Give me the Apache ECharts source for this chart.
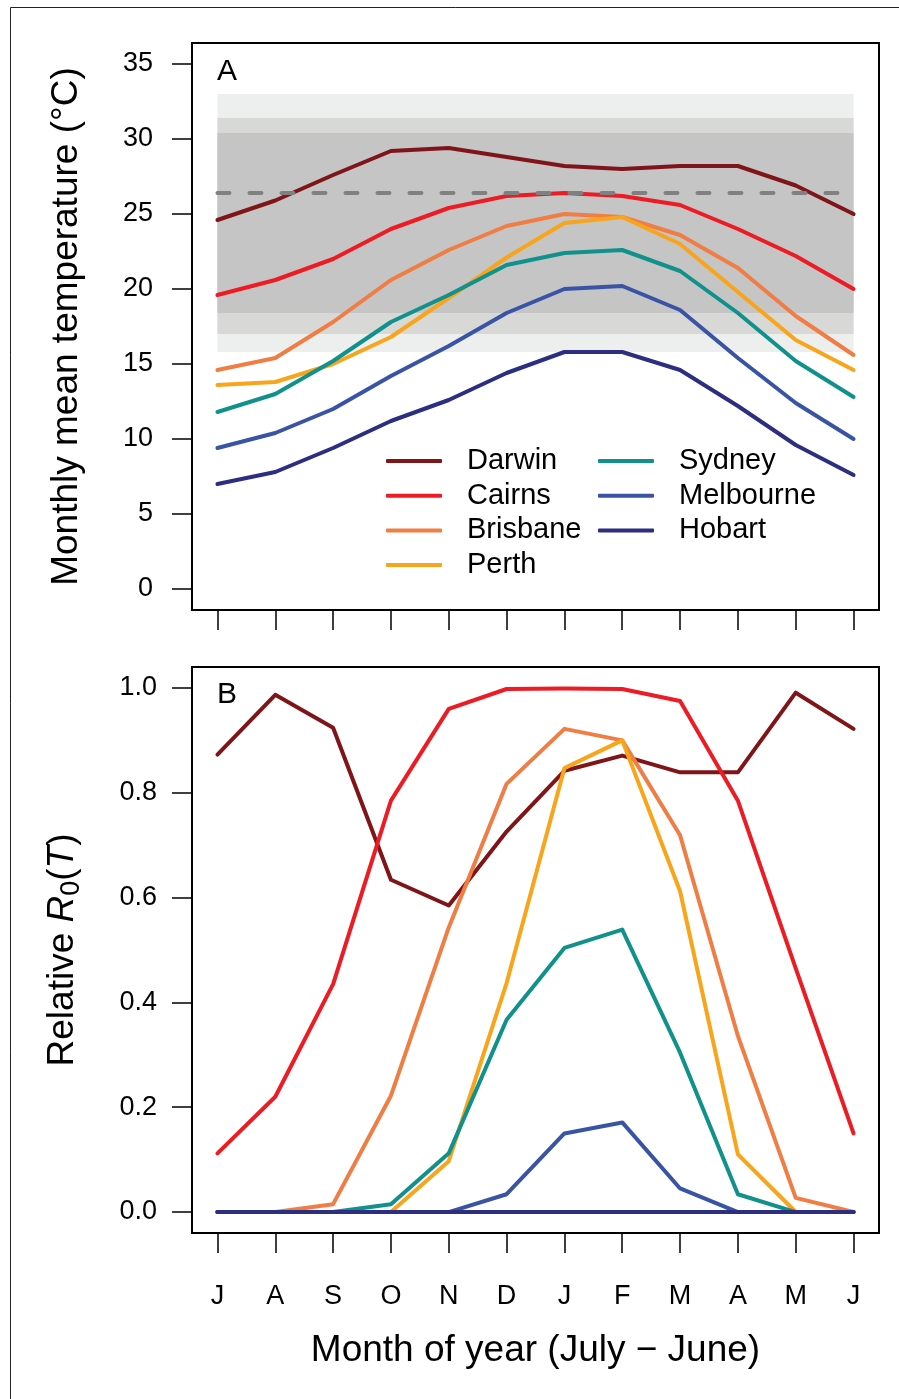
<!DOCTYPE html>
<html>
<head>
<meta charset="utf-8">
<script src="https://cdn.jsdelivr.net/npm/echarts@6/dist/echarts.min.js"></script>
<style>
  html, body { margin: 0; padding: 0; background: #fff; }
  #main { width: 899px; height: 1399px; }
</style>
</head>
<body>
<div id="main"></div>
<script>
// month letters, July -> June
const months = ['J', 'A', 'S', 'O', 'N', 'D', 'J', 'F', 'M', 'A', 'M', 'J']
const cities = ['Darwin', 'Cairns', 'Brisbane', 'Perth', 'Sydney', 'Melbourne', 'Hobart']
const colors = ['#7f1518', '#ed1c24', '#ef7d44', '#f8a51c', '#10918b', '#3a54a5', '#2c2e7f']

// panel A: monthly mean temperature (°C)
const tempDarwin = [24.6, 25.9, 27.6, 29.2, 29.4, 28.8, 28.2, 28.0, 28.2, 28.2, 26.9, 25.0]
const tempCairns = [19.6, 20.6, 22.0, 24.0, 25.4, 26.2, 26.4, 26.2, 25.6, 24.0, 22.2, 20.0]
const tempBrisbane = [14.6, 15.4, 17.8, 20.6, 22.6, 24.2, 25.0, 24.8, 23.6, 21.4, 18.2, 15.6]
const tempPerth = [13.6, 13.8, 15.0, 16.8, 19.4, 22.1, 24.4, 24.8, 23.0, 19.8, 16.6, 14.6]
const tempSydney = [11.8, 13.0, 15.2, 17.8, 19.6, 21.6, 22.4, 22.6, 21.2, 18.4, 15.2, 12.8]
const tempMelbourne = [9.4, 10.4, 12.0, 14.2, 16.2, 18.4, 20.0, 20.2, 18.6, 15.4, 12.4, 10.0]
const tempHobart = [7.0, 7.8, 9.4, 11.2, 12.6, 14.4, 15.8, 15.8, 14.6, 12.2, 9.6, 7.6]

// panel B: relative R0(T)
const r0Darwin = [0.873, 0.987, 0.924, 0.634, 0.585, 0.726, 0.842, 0.871, 0.839, 0.839, 0.991, 0.922]
const r0Cairns = [0.112, 0.220, 0.435, 0.785, 0.960, 0.998, 0.999, 0.998, 0.975, 0.785, 0.465, 0.150]
const r0Brisbane = [0, 0, 0.015, 0.222, 0.543, 0.817, 0.922, 0.900, 0.719, 0.336, 0.027, 0]
const r0Perth = [0, 0, 0, 0, 0.097, 0.437, 0.847, 0.900, 0.612, 0.110, 0, 0]
const r0Sydney = [0, 0, 0, 0.015, 0.112, 0.367, 0.504, 0.539, 0.304, 0.034, 0, 0]
const r0Melbourne = [0, 0, 0, 0, 0, 0.034, 0.150, 0.171, 0.045, 0, 0, 0]
const r0Hobart = [0, 0, 0, 0, 0, 0, 0, 0, 0, 0, 0, 0]

// shaded temperature bands (outer, middle, inner) and dashed reference line
const bandLow = [15.8, 17.0, 18.4]
const bandHigh = [33.0, 31.4, 30.4]
const bandColors = ['#edefee', '#d8d8d6', '#c5c5c5']
const refTemp = 26.4

const monthTicks = [1, 2, 3, 4, 5, 6, 7, 8, 9, 10, 11, 12]
const tempTicks = [0, 5, 10, 15, 20, 25, 30, 35]
const r0Ticks = [0, 0.2, 0.4, 0.6, 0.8, 1.0]

const tempSeries = [tempDarwin, tempCairns, tempBrisbane, tempPerth, tempSydney, tempMelbourne, tempHobart]
const r0Series = [r0Darwin, r0Cairns, r0Brisbane, r0Perth, r0Sydney, r0Melbourne, r0Hobart]

const FONT = '"Liberation Sans", Arial, Helvetica, sans-serif'
const pts = vals => vals.map((v, i) => [i + 1, v])

let myChart = echarts.init(document.getElementById('main'))

const tickStyle = { lineStyle: { color: '#000', width: 1.5 } }

function xAxisFor (grid, withLabels) {
  return {
    type: 'value',
    gridIndex: grid,
    min: 0.56,
    max: 12.44,
    axisLine: { show: false, onZero: false },
    splitLine: { show: false },
    axisTick: Object.assign({ show: true, length: 20, customValues: monthTicks }, tickStyle),
    axisLabel: {
      show: withLabels,
      customValues: monthTicks,
      formatter: v => months[Math.round(v) - 1],
      color: '#000',
      fontFamily: FONT,
      fontSize: 27,
      margin: 50
    },
    name: withLabels ? 'Month of year (July \u2212 June)' : '',
    nameLocation: 'middle',
    nameGap: 99,
    nameTextStyle: { color: '#000', fontFamily: FONT, fontSize: 37 }
  }
}

const series = []
// bands + dashed line underneath
series.push({
  type: 'line',
  name: 'bands',
  xAxisIndex: 0,
  yAxisIndex: 0,
  data: [],
  z: 1,
  silent: true,
  markArea: {
    silent: true,
    data: bandLow.map((lo, i) => [
      { coord: [1, lo], itemStyle: { color: bandColors[i], opacity: 1 } },
      { coord: [12, bandHigh[i]] }
    ])
  },
  markLine: {
    silent: true,
    symbol: 'none',
    label: { show: false },
    lineStyle: { color: '#808080', width: 4, type: [12, 20], cap: 'round' },
    data: [[{ coord: [1, refTemp] }, { coord: [12, refTemp] }]]
  }
})

cities.forEach((c, i) => {
  series.push({
    type: 'line',
    name: c,
    xAxisIndex: 0,
    yAxisIndex: 0,
    data: pts(tempSeries[i]),
    symbol: 'none',
    color: colors[i],
    lineStyle: { color: colors[i], width: 4, cap: 'round', join: 'round' },
    z: 2
  })
})
cities.forEach((c, i) => {
  series.push({
    type: 'line',
    name: c,
    xAxisIndex: 1,
    yAxisIndex: 1,
    data: pts(r0Series[i]),
    symbol: 'none',
    color: colors[i],
    lineStyle: { color: colors[i], width: 4, cap: 'round', join: 'round' },
    z: 2
  })
})

const legendBase = {
  orient: 'vertical',
  top: 446,
  padding: 0,
  icon: 'roundRect',
  itemWidth: 56,
  itemHeight: 4,
  itemGap: 4.7,
  selectedMode: false,
  textStyle: { color: '#000', fontFamily: FONT, fontSize: 29, lineHeight: 30, padding: [0, 0, 0, 20] }
}

const labelStyle = { fontFamily: FONT, fontSize: 30, fontWeight: 'normal', color: '#000' }

const option = {
  animation: false,
  backgroundColor: '#fff',
  textStyle: { fontFamily: FONT },
  title: [
    { text: 'A', left: 217, top: 57, padding: 0, textStyle: labelStyle },
    { text: 'B', left: 217, top: 680, padding: 0, textStyle: labelStyle }
  ],
  legend: [
    Object.assign({}, legendBase, { left: 386, data: cities.slice(0, 4) }),
    Object.assign({}, legendBase, { left: 598, data: cities.slice(4) })
  ],
  grid: [
    { left: 192, top: 43, width: 687, height: 567, show: true, borderColor: '#000', borderWidth: 2, backgroundColor: 'transparent' },
    { left: 192, top: 667, width: 687, height: 566, show: true, borderColor: '#000', borderWidth: 2, backgroundColor: 'transparent' }
  ],
  xAxis: [xAxisFor(0, false), xAxisFor(1, true)],
  yAxis: [
    {
      type: 'value',
      gridIndex: 0,
      min: -1.4,
      max: 36.4,
      axisLine: { show: false, onZero: false },
      splitLine: { show: false },
      axisTick: Object.assign({ show: true, length: 20, customValues: tempTicks }, tickStyle),
      axisLabel: { customValues: tempTicks, color: '#000', fontFamily: FONT, fontSize: 27, margin: 39 },
      name: 'Monthly mean temperature (\u00b0C)',
      nameLocation: 'middle',
      nameGap: 107,
      nameTextStyle: { color: '#000', fontFamily: FONT, fontSize: 37 }
    },
    {
      type: 'value',
      gridIndex: 1,
      min: -0.04,
      max: 1.04,
      axisLine: { show: false, onZero: false },
      splitLine: { show: false },
      axisTick: Object.assign({ show: true, length: 20, customValues: r0Ticks }, tickStyle),
      axisLabel: { customValues: r0Ticks, formatter: v => v.toFixed(1), color: '#000', fontFamily: FONT, fontSize: 27, margin: 35 },
      name: '{n|Relative }{i|R}{s|0}{n|(}{i|T}{n|)}',
      nameLocation: 'middle',
      nameGap: 107,
      nameTextStyle: {
        color: '#000',
        fontFamily: FONT,
        fontSize: 37,
        rich: {
          n: { fontFamily: FONT, fontSize: 37, lineHeight: 44, color: '#000' },
          i: { fontFamily: FONT, fontSize: 37, lineHeight: 44, fontStyle: 'italic', color: '#000' },
          s: { fontFamily: FONT, fontSize: 27, lineHeight: 27, verticalAlign: 'bottom', color: '#000' }
        }
      }
    }
  ],
  graphic: [
    { type: 'rect', shape: { x: 10.5, y: 7.5, width: 1000, height: 1500 }, style: { fill: 'none', stroke: '#222', lineWidth: 1 }, silent: true }
  ],
  series: series
}

myChart.setOption(option)
</script>
</body>
</html>
